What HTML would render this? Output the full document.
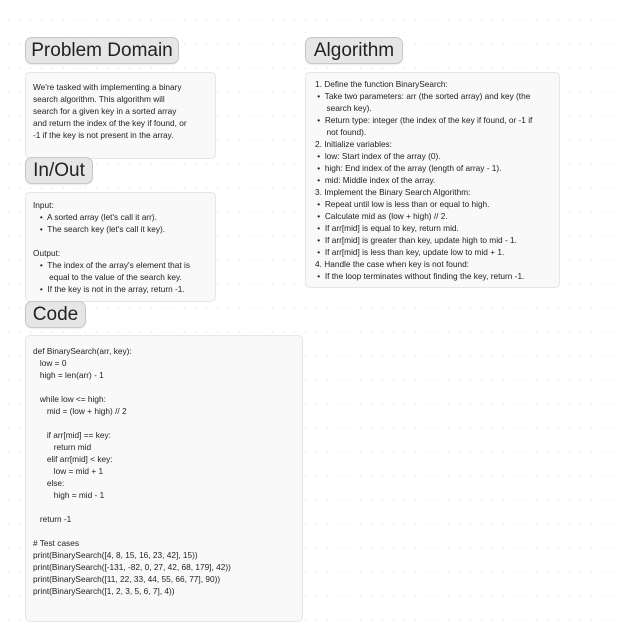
<!DOCTYPE html>
<html><head><meta charset="utf-8"><style>
html,body{margin:0;padding:0}
body{width:623px;height:623px;position:relative;overflow:hidden;background:#fff;
background-image:radial-gradient(circle,#dcdcdc 0.6px,transparent 0.8px);background-size:11px 12px;background-position:3px 2px;
font-family:"Liberation Sans",sans-serif;color:#222}
.pill{position:absolute;background:#e6e6e6;border:1px solid #c6c6c6;border-radius:7px;font-size:19px;line-height:25px;padding:0;text-align:center;white-space:nowrap;box-sizing:border-box;height:27px;box-shadow:0 1px 1px rgba(0,0,0,.08)}
.box{position:absolute;background:#f9f9f9;border:1px solid #e6e6e6;border-radius:5px;box-sizing:border-box;font-size:8.3px;line-height:12px;padding:7px 7px}
.l{white-space:pre;height:12px}
</style></head><body>
<div class="pill" style="left:25px;top:37px;width:154px">Problem Domain</div>
<div class="box" style="left:25px;top:72px;width:191px;height:87px;padding-top:8px">
<div class="l">We're tasked with implementing a binary</div>
<div class="l">search algorithm. This algorithm will</div>
<div class="l">search for a given key in a sorted array</div>
<div class="l">and return the index of the key if found, or</div>
<div class="l">-1 if the key is not present in the array.</div>
</div>
<div class="pill" style="left:25px;top:157px;width:68px">In/Out</div>
<div class="box" style="left:25px;top:192px;width:191px;height:110px;padding-top:6px">
<div class="l">Input:</div>
<div class="l">   •  A sorted array (let's call it arr).</div>
<div class="l">   •  The search key (let's call it key).</div>
<div class="l"> </div>
<div class="l">Output:</div>
<div class="l">   •  The index of the array's element that is</div>
<div class="l">       equal to the value of the search key.</div>
<div class="l">   •  If the key is not in the array, return -1.</div>
</div>
<div class="pill" style="left:25px;top:301px;width:61px">Code</div>
<div class="box" style="left:25px;top:335px;width:278px;height:287px;padding-top:9px">
<div class="l">def BinarySearch(arr, key):</div>
<div class="l">   low = 0</div>
<div class="l">   high = len(arr) - 1</div>
<div class="l"> </div>
<div class="l">   while low &lt;= high:</div>
<div class="l">      mid = (low + high) // 2</div>
<div class="l"> </div>
<div class="l">      if arr[mid] == key:</div>
<div class="l">         return mid</div>
<div class="l">      elif arr[mid] &lt; key:</div>
<div class="l">         low = mid + 1</div>
<div class="l">      else:</div>
<div class="l">         high = mid - 1</div>
<div class="l"> </div>
<div class="l">   return -1</div>
<div class="l"> </div>
<div class="l"># Test cases</div>
<div class="l">print(BinarySearch([4, 8, 15, 16, 23, 42], 15))</div>
<div class="l">print(BinarySearch([-131, -82, 0, 27, 42, 68, 179], 42))</div>
<div class="l">print(BinarySearch([11, 22, 33, 44, 55, 66, 77], 90))</div>
<div class="l">print(BinarySearch([1, 2, 3, 5, 6, 7], 4))</div>
</div>
<div class="pill" style="left:305px;top:37px;width:98px">Algorithm</div>
<div class="box" style="left:305px;top:72px;width:255px;height:216px;padding-top:5px;padding-left:9px">
<div class="l">1. Define the function BinarySearch:</div>
<div class="l"> •  Take two parameters: arr (the sorted array) and key (the</div>
<div class="l">     search key).</div>
<div class="l"> •  Return type: integer (the index of the key if found, or -1 if</div>
<div class="l">     not found).</div>
<div class="l">2. Initialize variables:</div>
<div class="l"> •  low: Start index of the array (0).</div>
<div class="l"> •  high: End index of the array (length of array - 1).</div>
<div class="l"> •  mid: Middle index of the array.</div>
<div class="l">3. Implement the Binary Search Algorithm:</div>
<div class="l"> •  Repeat until low is less than or equal to high.</div>
<div class="l"> •  Calculate mid as (low + high) // 2.</div>
<div class="l"> •  If arr[mid] is equal to key, return mid.</div>
<div class="l"> •  If arr[mid] is greater than key, update high to mid - 1.</div>
<div class="l"> •  If arr[mid] is less than key, update low to mid + 1.</div>
<div class="l">4. Handle the case when key is not found:</div>
<div class="l"> •  If the loop terminates without finding the key, return -1.</div>
</div>
</body></html>
